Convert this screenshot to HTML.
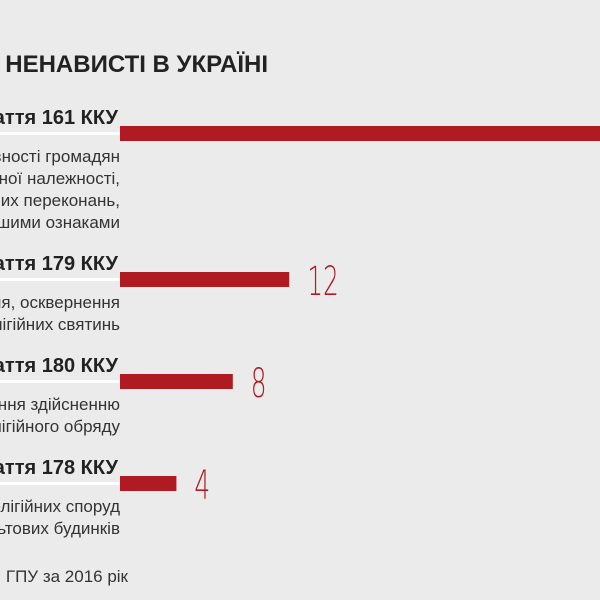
<!DOCTYPE html>
<html><head><meta charset="utf-8"><style>
html,body{margin:0;padding:0;background:#ebebeb;}
svg{display:block;font-family:"Liberation Sans","DejaVu Sans",sans-serif;}
</style></head><body>
<svg id="c" width="600" height="600" viewBox="0 0 600 600">
<rect width="600" height="600" fill="#ebebeb"/>
<text x="268" y="72" text-anchor="end" font-size="24" font-weight="bold" fill="#222">ЗЛОЧИНИ НА ҐРУНТІ НЕНАВИСТІ В УКРАЇНІ</text>
<g id="rows"></g>
<text x="128" y="582" text-anchor="end" font-size="17" fill="#333">Джерело: ГПУ за 2016 рік</text>
</svg>
<script>
const categories = ["Стаття 161 ККУ","Стаття 179 ККУ","Стаття 180 ККУ","Стаття 178 ККУ"];
const values = [60, 12, 8, 4];
const labels = ["", "12", "8", "4"];
const descriptions = [
 ["Порушення рівності громадян","залежно від їх расової, національної належності,","релігійних переконань,","інвалідності та за іншими ознаками"],
 ["Незаконне утримування, осквернення","релігійних святинь"],
 ["Перешкоджання здійсненню","релігійного обряду"],
 ["Пошкодження релігійних споруд","чи культових будинків"]
];
const rowTops = [126, 272, 374, 476];
const x0 = 120, scale = 14.1;
const xs = v => x0 + v * scale;
const ns = "http://www.w3.org/2000/svg";
const g = document.getElementById('rows');
function mk(tag, attrs){const e=document.createElementNS(ns,tag);for(const k in attrs)e.setAttribute(k,attrs[k]);return e;}
categories.forEach((c,i)=>{
  const top = rowTops[i];
  const t = mk('text',{x:118,y:top-2,'text-anchor':'end','font-size':20,'font-weight':'bold',fill:'#222'});
  t.textContent = c;
  
  
  g.appendChild(t);
  const ul = mk('rect',{x:0,y:top+6,width:x0,height:3,fill:'#ffffff'});
  
  
  g.appendChild(ul);
  const bar = mk('rect',{x:x0,y:top,width:Math.max(0,xs(values[i])-x0),height:15,fill:'#b01a22'});
  
  
  g.appendChild(bar);
  if(labels[i]){
    const v = mk('text',{x:0,y:0,'font-size':40,fill:'#b01a22',style:'font-family:"DejaVu Sans",sans-serif;font-weight:200',transform:'translate('+(xs(values[i])+18)+','+(top+23)+') scale(0.62,1)'});
    v.textContent = labels[i];
    
    
    g.appendChild(v);
  }
  descriptions[i].forEach((d,j)=>{
    const dt = mk('text',{x:120,y:top+36+j*22,'text-anchor':'end','font-size':17,fill:'#333'});
    dt.textContent = d;
    
    
    g.appendChild(dt);
  });
});
</script>
</body></html>
